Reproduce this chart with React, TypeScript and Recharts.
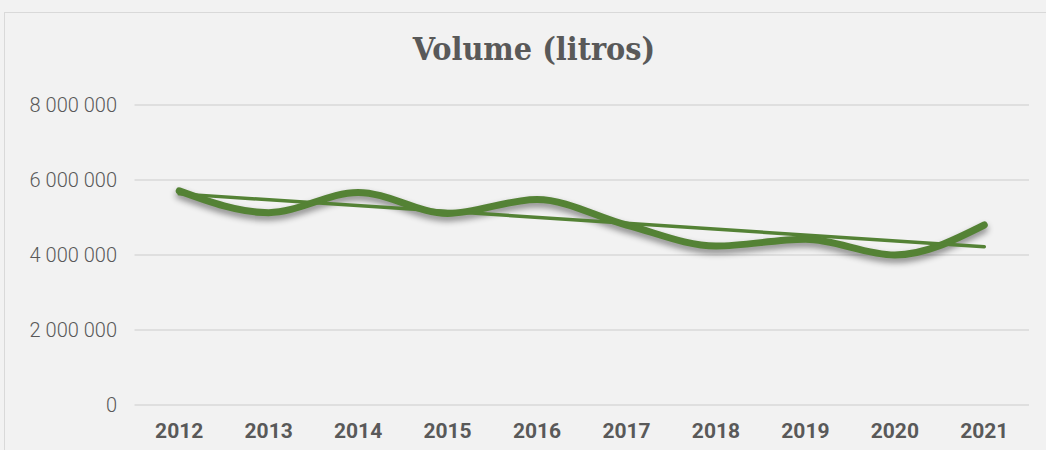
import React from 'react';
import { LineChart, Line, XAxis, YAxis, CartesianGrid } from 'recharts';

const years = ['2012', '2013', '2014', '2015', '2016', '2017', '2018', '2019', '2020', '2021'];
const volume = [5710000, 5130000, 5670000, 5110000, 5480000, 4800000, 4240000, 4420000, 4000000, 4800000];
// linear trend line end points
const trend = [5630000, null, null, null, null, null, null, null, null, 4220000];
const yTicks = [0, 2000000, 4000000, 6000000, 8000000];

const data = years.map((y, i) => ({ year: y, volume: volume[i], trend: trend[i] }));

const fmt = (v: number) => String(v).replace(/\B(?=(\d{3})+(?!\d))/g, ' ');

export default function App() {
  return (
    <div style={{ position: 'fixed', left: 0, top: 0, width: 1046, height: 450, background: '#f2f2f2', overflow: 'hidden' }}>
      <style>{`.main-line path { filter: drop-shadow(0px 4px 3px rgba(0,0,0,0.45)); }`}</style>
      <div style={{ position: 'absolute', left: 4, top: 12, width: 1200, height: 600, border: '1.5px solid #d9d9d9', boxSizing: 'border-box' }} />
      <div style={{ position: 'absolute', left: 0, top: 29, width: 1068, textAlign: 'center', fontFamily: '"DejaVu Serif Condensed", "DejaVu Serif", serif', fontWeight: 700, fontSize: 32, color: '#595959', lineHeight: '40px' }}>
        Volume (litros)
      </div>
      <div style={{ position: 'absolute', left: 0, top: 0 }}>
        <LineChart width={1046} height={450} data={data} margin={{ top: 105, right: 17, bottom: 0, left: 0 }}>
          <CartesianGrid vertical={false} stroke="#d9d9d9" strokeWidth={1.5} />
          <XAxis
            dataKey="year"
            height={45}
            padding={{ left: 44.7, right: 44.7 }}
            axisLine={false}
            tickLine={false}
            tickSize={0}
            tickMargin={18}
            interval={0}
            tick={{ fill: '#595959', fontSize: 21, fontWeight: 700, fontFamily: 'Roboto, "Liberation Sans", sans-serif' }}
          />
          <YAxis
            width={134.5}
            domain={[0, 8000000]}
            ticks={yTicks}
            axisLine={false}
            tickLine={false}
            tickSize={0}
            tickMargin={17.5}
            tickFormatter={fmt}
            tick={{ fill: '#595959', fontSize: 20, fontWeight: 300, fontFamily: 'Roboto, "Liberation Sans", sans-serif' }}
          />
          <Line
            className="main-line"
            type="monotone"
            dataKey="volume"
            stroke="#548235"
            strokeWidth={7}
            strokeLinecap="round"
            dot={false}
            activeDot={false}
            isAnimationActive={false}
          />
          <Line
            type="linear"
            dataKey="trend"
            connectNulls
            stroke="#548235"
            strokeWidth={3.5}
            strokeLinecap="round"
            dot={false}
            activeDot={false}
            isAnimationActive={false}
          />
        </LineChart>
      </div>
    </div>
  );
}
